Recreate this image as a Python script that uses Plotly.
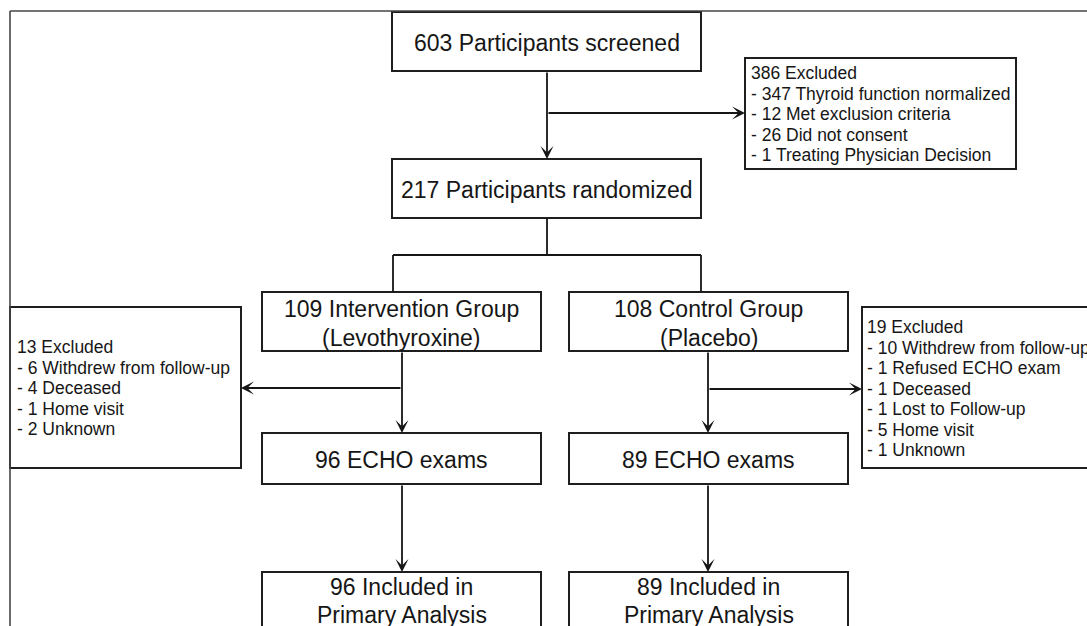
import plotly.graph_objects as go

# ---------------- data (texts of the flow chart) ----------------
screened_text = ["603 Participants screened"]
randomized_text = ["217 Participants randomized"]
excluded_top = ["386 Excluded",
                "- 347 Thyroid function normalized",
                "- 12 Met exclusion criteria",
                "- 26 Did not consent",
                "- 1 Treating Physician Decision"]
group_left = ["109 Intervention Group", "(Levothyroxine)"]
group_right = ["108 Control Group", "(Placebo)"]
excluded_left = ["13 Excluded",
                 "- 6 Withdrew from follow-up",
                 "- 4 Deceased",
                 "- 1 Home visit",
                 "- 2 Unknown"]
excluded_right = ["19 Excluded",
                  "- 10 Withdrew from follow-up",
                  "- 1 Refused ECHO exam",
                  "- 1 Deceased",
                  "- 1 Lost to Follow-up",
                  "- 5 Home visit",
                  "- 1 Unknown"]
echo_left = ["96 ECHO exams"]
echo_right = ["89 ECHO exams"]
included_left = ["96 Included in", "Primary Analysis"]
included_right = ["89 Included in", "Primary Analysis"]

# ---------------- figure ----------------
W, H = 1087, 626
FONT = "Liberation Sans, Arial, Helvetica, sans-serif"
INK = "#161616"
BOX = "#1e1e1e"

fig = go.Figure()
fig.update_layout(
    width=W, height=H,
    margin=dict(l=0, r=0, t=0, b=0),
    paper_bgcolor="white", plot_bgcolor="white",
    showlegend=False,
    xaxis=dict(range=[0, W], visible=False, fixedrange=True),
    yaxis=dict(range=[H, 0], visible=False, fixedrange=True),
)


def box(x0, y0, x1, y1):
    fig.add_shape(type="rect", xref="x", yref="y", x0=x0, y0=y0, x1=x1, y1=y1,
                  line=dict(color=BOX, width=2), fillcolor="white", layer="below")


def line(x0, y0, x1, y1, color=INK, width=1.8):
    fig.add_shape(type="line", xref="x", yref="y", x0=x0, y0=y0, x1=x1, y1=y1,
                  line=dict(color=color, width=width))


def arrow(x0, y0, x1, y1):
    fig.add_annotation(x=x1, y=y1, ax=x0, ay=y0, xref="x", yref="y",
                       axref="x", ayref="y", text="", showarrow=True,
                       arrowhead=3, arrowsize=1.2, arrowwidth=1.8,
                       arrowcolor=INK, standoff=0, startstandoff=0)


def lines_centered(lines, xc, ys, size):
    for t, y in zip(lines, ys):
        fig.add_annotation(x=xc, y=y, xref="x", yref="y", text=t, showarrow=False,
                           xanchor="center", yanchor="middle",
                           font=dict(family=FONT, size=size, color=INK))


def lines_left(lines, x, y0, step, size):
    for i, t in enumerate(lines):
        fig.add_annotation(x=x, y=y0 + i * step, xref="x", yref="y", text=t,
                           showarrow=False, xanchor="left", yanchor="middle",
                           font=dict(family=FONT, size=size, color=INK))


# outer frame (top and left edges visible)
line(10, 11, W + 5, 11, color="#454545", width=1.6)
line(10, 11, 10, H + 5, color="#454545", width=1.6)

# boxes
box(392, 12, 701, 71)        # screened
box(392, 159, 701, 218)      # randomized
box(745, 58, 1016, 169)      # excluded top
box(262, 292, 541, 351)      # intervention
box(569, 292, 848, 351)      # control
box(10, 307, 241, 468)       # excluded left
box(862, 307, W + 20, 468)   # excluded right
box(262, 433, 541, 484)      # echo left
box(569, 433, 848, 484)      # echo right
box(262, 572, 541, H + 20)   # included left
box(569, 572, 848, H + 20)   # included right

# connectors
arrow(547, 71, 547, 159)
arrow(547, 113, 745, 113)
line(547, 218, 547, 255)
line(393, 255, 701, 255)
line(393, 255, 393, 292)
line(701, 255, 701, 292)
arrow(402, 351, 402, 433)
arrow(402, 388, 241, 388)
arrow(708, 351, 708, 433)
arrow(708, 389, 862, 389)
arrow(402, 484, 402, 572)
arrow(708, 484, 708, 572)

# texts
BIG = 23
SMALL = 17.5
lines_centered(screened_text, 547, [43], BIG)
lines_centered(randomized_text, 547, [190], BIG)
lines_centered(group_left, 401.5, [309, 338], BIG)
lines_centered(group_right, 708.5, [309, 338], BIG)
lines_centered(echo_left, 401.5, [460], BIG)
lines_centered(echo_right, 708.5, [460], BIG)
lines_centered(included_left, 401.5, [587, 615], BIG)
lines_centered(included_right, 708.5, [587, 615], BIG)

lines_left(excluded_top, 749, 73.3, 20.4, SMALL)
lines_left(excluded_left, 15, 347, 20.5, SMALL)
lines_left(excluded_right, 865, 327, 20.5, SMALL)

fig.write_html(
    "out.html",
    config={"displayModeBar": False, "staticPlot": True},
    post_script="document.body.style.margin='0px';document.body.style.overflow='hidden';",
)
